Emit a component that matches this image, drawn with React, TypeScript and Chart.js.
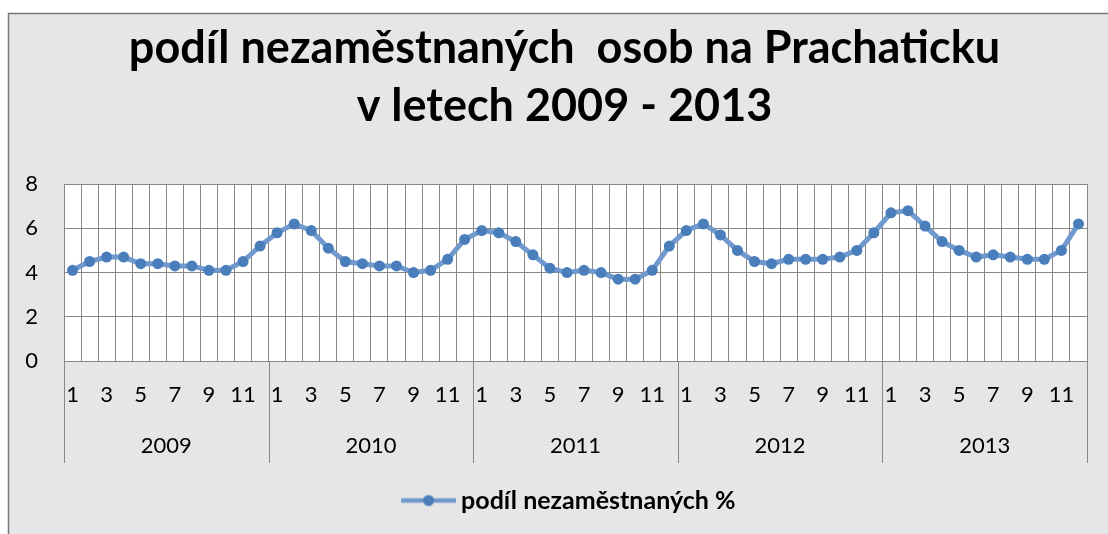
import React, { useEffect, useRef } from 'react';
import { Chart, registerables } from 'chart.js';

Chart.register(...registerables);

const titleLines = ['podíl nezaměstnaných  osob na Prachaticku', 'v letech 2009 - 2013'];
const seriesLabel = 'podíl nezaměstnaných %';
const years = ['2009', '2010', '2011', '2012', '2013'];
const months = ['1', '2', '3', '4', '5', '6', '7', '8', '9', '10', '11', '12'];

const values2009 = [4.1, 4.5, 4.7, 4.7, 4.4, 4.4, 4.3, 4.3, 4.1, 4.1, 4.5, 5.2];
const values2010 = [5.8, 6.2, 5.9, 5.1, 4.5, 4.4, 4.3, 4.3, 4.0, 4.1, 4.6, 5.5];
const values2011 = [5.9, 5.8, 5.4, 4.8, 4.2, 4.0, 4.1, 4.0, 3.7, 3.7, 4.1, 5.2];
const values2012 = [5.9, 6.2, 5.7, 5.0, 4.5, 4.4, 4.6, 4.6, 4.6, 4.7, 5.0, 5.8];
const values2013 = [6.7, 6.8, 6.1, 5.4, 5.0, 4.7, 4.8, 4.7, 4.6, 4.6, 5.0, 6.2];

const yMin = 0;
const yMax = 8;
const yStep = 2;

const FONT = 'Lato';
const GRID = '#878787';
const LINE = '#7099cd';
const MARK = '#4a7ebb';
const BG = '#e6e6e6';

function makeLegendMarker(): HTMLCanvasElement {
  // drawn centred on a 55px legend box; the line is shifted right to sit close to the text
  const c = document.createElement('canvas');
  c.width = 70;
  c.height = 14;
  const ctx = c.getContext('2d')!;
  ctx.strokeStyle = LINE;
  ctx.lineWidth = 4.5;
  ctx.beginPath();
  ctx.moveTo(15, 7);
  ctx.lineTo(70, 7);
  ctx.stroke();
  ctx.fillStyle = MARK;
  ctx.beginPath();
  ctx.arc(42.5, 7, 5.5, 0, Math.PI * 2);
  ctx.fill();
  return c;
}

export default function App() {
  const ref = useRef<HTMLCanvasElement | null>(null);

  useEffect(() => {
    if (!ref.current) return;
    const labels: string[] = [];
    years.forEach(() => months.forEach((m) => labels.push(m)));
    const data = [...values2009, ...values2010, ...values2011, ...values2012, ...values2013];

    const framePlugin = {
      id: 'frame',
      afterLayout(chart: any) {
        // centre title and legend on the chart frame
        const t = chart.titleBlock;
        if (t) {
          t.left = 42;
          t.width = t.right - t.left;
        }
        const lg = chart.legend;
        if (lg) {
          lg.left = 42;
          lg.width = lg.right - lg.left;
        }
      },
      beforeDraw(chart: any) {
        const { ctx, width, height, chartArea } = chart;
        ctx.save();
        ctx.fillStyle = '#ffffff';
        ctx.fillRect(0, 0, width, height);
        ctx.fillStyle = BG;
        ctx.fillRect(8, 13, width - 8, height - 13);
        ctx.strokeStyle = '#7a7a7a';
        ctx.lineWidth = 1.5;
        ctx.beginPath();
        ctx.moveTo(8.5, height);
        ctx.lineTo(8.5, 13.5);
        ctx.lineTo(width, 13.5);
        ctx.stroke();
        ctx.fillStyle = '#ffffff';
        ctx.fillRect(chartArea.left, chartArea.top, chartArea.right - chartArea.left, chartArea.bottom - chartArea.top);
        ctx.restore();
      },
      afterDraw(chart: any) {
        const { ctx, chartArea } = chart;
        const xs = chart.scales.x;
        ctx.save();
        ctx.strokeStyle = GRID;
        ctx.lineWidth = 1;
        for (let i = 0; i <= years.length; i++) {
          const px = Math.round(xs.getPixelForValue(i * months.length - 0.5)) + 0.5;
          ctx.beginPath();
          ctx.moveTo(px, chartArea.bottom);
          ctx.lineTo(px, 463);
          ctx.stroke();
        }
        ctx.fillStyle = '#000000';
        ctx.font = `22px ${FONT}`;
        ctx.textAlign = 'center';
        ctx.textBaseline = 'middle';
        years.forEach((y, i) => {
          const a = xs.getPixelForValue(i * months.length);
          const b = xs.getPixelForValue(i * months.length + months.length - 1);
          ctx.fillText(y, (a + b) / 2, 446);
        });
        ctx.restore();
      },
    };

    const chart = new Chart(ref.current, {
      type: 'line',
      data: {
        labels,
        datasets: [
          {
            label: seriesLabel,
            data,
            borderColor: LINE,
            backgroundColor: MARK,
            borderWidth: 5,
            pointRadius: 5.5,
            pointBorderWidth: 0,
            pointBackgroundColor: MARK,
            pointBorderColor: MARK,
            tension: 0,
          },
        ],
      },
      options: {
        responsive: false,
        animation: false,
        layout: { padding: { left: 0, right: 21, top: 0, bottom: 11 } },
        plugins: {
          title: {
            display: true,
            text: titleLines,
            color: '#000000',
            font: { family: FONT, size: 45, weight: 'bold', lineHeight: 1.29 },
            padding: { top: 19, bottom: 49 },
          },
          legend: {
            display: true,
            position: 'bottom',
            labels: {
              usePointStyle: true,
              pointStyle: makeLegendMarker(),
              pointStyleWidth: 55,
              color: '#000000',
              padding: 10,
              font: { family: FONT, size: 25, weight: 'bold' },
            },
          },
          tooltip: { enabled: false },
        },
        scales: {
          x: {
            type: 'category',
            offset: true,
            grid: { offset: true, color: GRID, drawTicks: false, lineWidth: 1 },
            border: { color: GRID },
            ticks: {
              autoSkip: false,
              maxRotation: 0,
              minRotation: 0,
              padding: 21,
              color: '#000000',
              font: { family: FONT, size: 22 },
              callback: function (this: any, v: any, i: number) {
                return i % 2 === 0 ? this.getLabelForValue(v) : '';
              },
            },
            afterFit: (s: any) => {
              s.height = 117;
            },
          },
          y: {
            min: yMin,
            max: yMax,
            grid: { color: GRID, drawTicks: false },
            border: { color: GRID },
            ticks: {
              stepSize: yStep,
              padding: 26,
              color: '#000000',
              font: { family: FONT, size: 22 },
            },
            afterFit: (s: any) => {
              s.width = 64;
            },
          },
        },
      },
      plugins: [framePlugin],
    } as any);

    return () => chart.destroy();
  }, []);

  return (
    <div style={{ position: 'fixed', left: 0, top: 0, width: 1108, height: 534 }}>
      <canvas ref={ref} width={1108} height={534} style={{ display: 'block', width: 1108, height: 534 }} />
    </div>
  );
}
